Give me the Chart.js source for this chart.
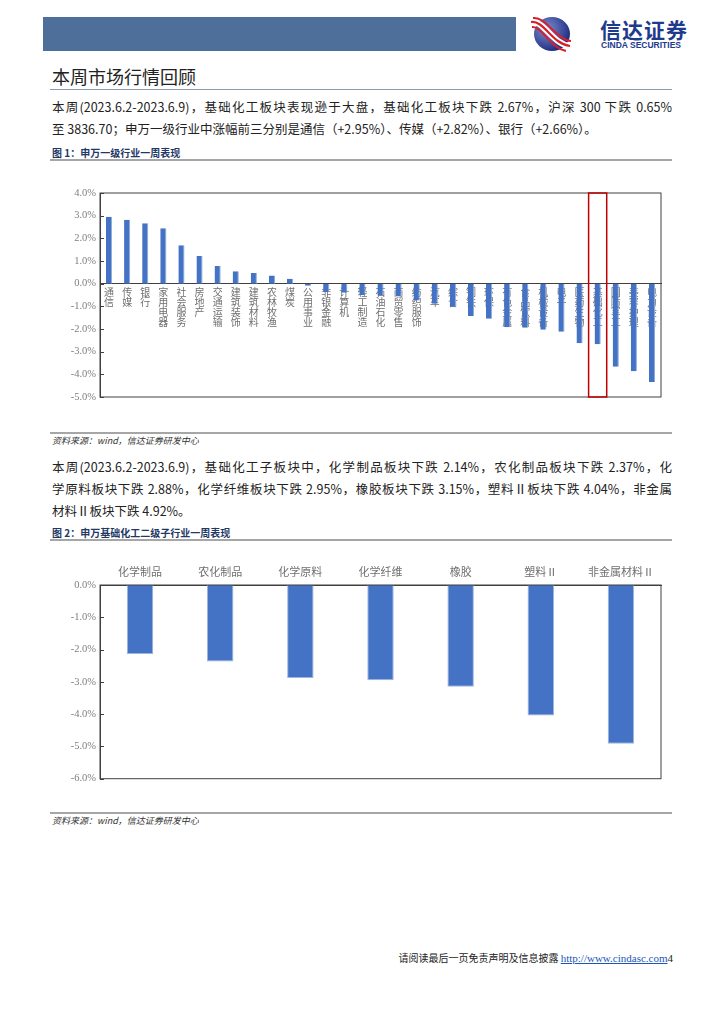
<!DOCTYPE html>
<html>
<head>
<meta charset="utf-8">
<script src="https://cdn.jsdelivr.net/npm/chart.js@4"></script>
<style>
  body { margin: 0; background: #fff; }
  #page { position: relative; width: 724px; height: 1024px; overflow: hidden; font-family: "Noto Sans CJK SC", sans-serif; color: #222; }
  .abs { position: absolute; }
  .line { position: absolute; left: 50px; width: 622px; }
  .para { position: absolute; left: 52px; width: 620px; font-size: 12.5px; line-height: 16px; white-space: nowrap; }
  .just { text-align: justify; text-align-last: justify; white-space: normal; }
  .cap { position: absolute; left: 52px; font-size: 10px; font-weight: bold; color: #1f3864; }
  .src { position: absolute; left: 52px; font-size: 9px; font-style: italic; color: #333; }
</style>
</head>
<body>
<div id="page">
  <!-- header -->
  <div class="abs" style="left:43px;top:17px;width:473px;height:34px;background:#4d6f99;"></div>
  <svg class="abs" style="left:530px;top:14px;" width="42" height="40" viewBox="0 0 42 40">
    <defs>
      <radialGradient id="g" cx="0.35" cy="0.35" r="0.75">
        <stop offset="0" stop-color="#7d8fd0"/>
        <stop offset="1" stop-color="#16237a"/>
      </radialGradient>
    </defs>
    <ellipse cx="22" cy="20" rx="18" ry="17" fill="url(#g)"/>
    <path d="M1,8 C14,6 22,30 40,32" stroke="#fff" stroke-width="6" fill="none"/>
    <path d="M1,8 C14,6 22,30 40,32" stroke="#d6202b" stroke-width="2.2" fill="none"/>
    <path d="M3,4 C16,2 26,26 41,27" stroke="#d6202b" stroke-width="2" fill="none"/>
    <path d="M2,13 C12,12 20,34 36,37" stroke="#d6202b" stroke-width="2" fill="none"/>
  </svg>
  <div class="abs" style="left:600px;top:18px;font-size:21px;line-height:22px;font-weight:bold;color:#1e3a8c;letter-spacing:1px;">信达证券</div>
  <div class="abs" style="left:601px;top:41px;font-family:'Liberation Sans',sans-serif;font-size:8.5px;line-height:9px;font-weight:bold;color:#1e3a8c;">CINDA SECURITIES</div>

  <!-- title -->
  <div class="abs" style="left:52px;top:63px;font-size:18px;color:#222;">本周市场行情回顾</div>
  <div class="line" style="top:89px;height:1px;background:#8a9bb0;"></div>

  <div class="para just" style="top:99px;">本周(2023.6.2-2023.6.9)，基础化工板块表现逊于大盘，基础化工板块下跌 2.67%，沪深 300 下跌 0.65%</div>
  <div class="para" style="top:121px;">至 3836.70；申万一级行业中涨幅前三分别是通信（+2.95%）、传媒（+2.82%）、银行（+2.66%）。</div>

  <div class="cap" style="top:145px;">图 1：申万一级行业一周表现</div>
  <div class="line" style="top:159px;height:2px;background:#a6a6a6;"></div>
  <div class="abs" style="left:50px;top:162px;width:622px;height:268px;"><canvas id="chart1"></canvas></div>
  <div class="line" style="top:432px;height:2px;background:#a6a6a6;"></div>
  <div class="src" style="top:434px;">资料来源：wind，信达证券研发中心</div>

  <div class="para just" style="top:459px;">本周(2023.6.2-2023.6.9)，基础化工子板块中，化学制品板块下跌 2.14%，农化制品板块下跌 2.37%，化</div>
  <div class="para just" style="top:481px;">学原料板块下跌 2.88%，化学纤维板块下跌 2.95%，橡胶板块下跌 3.15%，塑料Ⅱ板块下跌 4.04%，非金属</div>
  <div class="para" style="top:503px;">材料Ⅱ板块下跌 4.92%。</div>

  <div class="cap" style="top:525px;">图 2：申万基础化工二级子行业一周表现</div>
  <div class="line" style="top:539px;height:2px;background:#a6a6a6;"></div>
  <div class="abs" style="left:50px;top:545px;width:622px;height:244px;"><canvas id="chart2"></canvas></div>
  <div class="line" style="top:812px;height:2px;background:#a6a6a6;"></div>
  <div class="src" style="top:814px;">资料来源：wind，信达证券研发中心</div>

  <!-- footer -->
  <div class="abs" style="right:51px;top:950px;font-size:10px;color:#222;white-space:nowrap;">请阅读最后一页免责声明及信息披露 <span style="font-family:'Liberation Serif',serif;font-size:11px;color:#1a56b8;text-decoration:underline;">http://www.cindasc.com</span><span style="font-family:'Liberation Serif',serif;font-size:11px;">4</span></div>
</div>

<script>
// 申万一级行业一周涨跌幅 (%)
const industryLabels = ["通信", "传媒", "银行", "家用电器", "社会服务", "房地产", "交通运输", "建筑装饰", "建筑材料", "农林牧渔", "煤炭",
  "公用事业", "非银金融", "计算机", "轻工制造", "石油石化", "商贸零售", "纺织服饰", "汽车", "综合", "钢铁", "环保",
  "有色金属", "食品饮料", "机械设备", "电子", "医药生物", "基础化工", "国防军工", "美容护理", "电力设备"];
const industryChange = [2.95, 2.82, 2.66, 2.45, 1.70, 1.22, 0.78, 0.55, 0.47, 0.36, 0.22,
  -0.09, -0.38, -0.40, -0.50, -0.52, -0.57, -0.74, -0.89, -1.02, -1.43, -1.55,
  -1.92, -1.95, -2.03, -2.12, -2.63, -2.67, -3.67, -3.86, -4.34];
const highlightName = "基础化工";

// 申万基础化工二级子行业一周涨跌幅 (%)
const subLabels = ["化学制品", "农化制品", "化学原料", "化学纤维", "橡胶", "塑料Ⅱ", "非金属材料Ⅱ"];
const subChange = [-2.14, -2.37, -2.88, -2.95, -3.15, -4.04, -4.92];

const axisColor = "#404040";
const tickColor = "#7f7f7f";
const labelColor = "#6f6f6f";
const barBlue = "#4472c4";

// 画外框和朝内的刻度线
const frame = {
  id: "frame",
  afterDraw(chart) {
    const { ctx, chartArea: a } = chart;
    const y = chart.scales.y;
    ctx.save();
    ctx.strokeStyle = axisColor;
    ctx.lineWidth = 1;
    ctx.strokeRect(a.left, a.top, a.right - a.left, a.bottom - a.top);
    y.ticks.forEach((t) => {
      const py = Math.round(y.getPixelForValue(t.value)) + 0.5;
      ctx.beginPath();
      ctx.moveTo(a.left, py);
      ctx.lineTo(a.left + 4, py);
      ctx.stroke();
    });
    ctx.restore();
  },
};

// 红框标出基础化工
const highlight = {
  id: "highlight",
  afterDraw(chart) {
    const x = chart.scales.x;
    const i = industryLabels.indexOf(highlightName);
    const w = x.width / industryLabels.length;
    const cx = x.getPixelForValue(i);
    const a = chart.chartArea;
    chart.ctx.save();
    chart.ctx.strokeStyle = "#c00000";
    chart.ctx.lineWidth = 1.5;
    chart.ctx.strokeRect(cx - w / 2, a.top, w, a.bottom - a.top);
    chart.ctx.restore();
  },
};

const pct = (v) => Number(v).toFixed(1) + "%";

new Chart(document.getElementById("chart1"), {
  type: "bar",
  data: {
    labels: industryLabels.map((s) => s.split("")),
    datasets: [{
      data: industryChange,
      backgroundColor: barBlue,
      borderColor: "#8faadc",
      borderWidth: { left: 0, right: 1, top: 0, bottom: 0 },
      barPercentage: 0.34,
      categoryPercentage: 1,
    }],
  },
  options: {
    responsive: true,
    maintainAspectRatio: false,
    animation: false,
    layout: { padding: { top: 31, right: 11, bottom: 33, left: 0 } },
    plugins: { legend: { display: false }, tooltip: { enabled: false } },
    scales: {
      x: {
        position: { y: 0 },
        grid: { display: false, drawTicks: false },
        border: { color: axisColor, width: 1 },
        ticks: {
          autoSkip: false, maxRotation: 0, minRotation: 0, padding: 4,
          color: labelColor,
          font: { family: "Noto Sans CJK SC", size: 10, lineHeight: 1.0 },
        },
      },
      y: {
        min: -5, max: 4,
        grid: { display: false, drawTicks: false },
        border: { color: axisColor, width: 1 },
        ticks: { stepSize: 1, padding: 4, color: tickColor, callback: pct,
          font: { family: "Liberation Serif", size: 10.5 } },
        afterFit: (s) => { s.width = 50; },
      },
    },
  },
  plugins: [frame, highlight],
});

new Chart(document.getElementById("chart2"), {
  type: "bar",
  data: {
    labels: subLabels,
    datasets: [{
      data: subChange,
      backgroundColor: barBlue,
      borderColor: "#9db5e0",
      borderWidth: 1,
      barPercentage: 0.33,
      categoryPercentage: 1,
    }],
  },
  options: {
    responsive: true,
    maintainAspectRatio: false,
    animation: false,
    layout: { padding: { top: 12, right: 11, bottom: 0, left: 0 } },
    plugins: { legend: { display: false }, tooltip: { enabled: false } },
    scales: {
      x: {
        position: "top",
        grid: { display: false, drawTicks: false },
        border: { color: axisColor, width: 1 },
        ticks: { padding: 7, color: labelColor,
          font: { family: "Noto Sans CJK SC", size: 11 } },
        afterFit: (s) => { s.height = 28; },
      },
      y: {
        min: -6, max: 0,
        grid: { display: false, drawTicks: false },
        border: { color: axisColor, width: 1 },
        ticks: { stepSize: 1, padding: 4, color: tickColor, callback: pct,
          font: { family: "Liberation Serif", size: 10.5 } },
        afterFit: (s) => { s.width = 50; },
      },
    },
  },
  plugins: [frame],
});
</script>
</body>
</html>
